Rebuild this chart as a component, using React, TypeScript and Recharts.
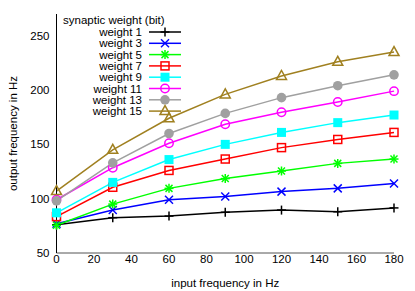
import React from 'react';
import { LineChart, Line, XAxis, YAxis, Customized } from 'recharts';

const inputFreq = [0, 30, 60, 90, 120, 150, 180];
const weight1 = [76, 82.5, 84, 87.5, 89.5, 88, 91.5];
const weight3 = [77, 89.5, 99, 102, 106.5, 109.5, 114];
const weight5 = [75.5, 95, 109.5, 118.5, 125.5, 132.5, 136.5];
const weight7 = [83.5, 110.5, 126, 136.5, 147, 154.5, 161];
const weight9 = [87, 115, 136, 150, 161, 170, 177];
const weight11 = [99, 128.5, 151, 168.5, 179.5, 189, 199];
const weight13 = [98, 133, 160, 178.5, 193, 204, 214];
const weight15 = [107, 145, 174, 196, 213, 226, 235];

const xTicks = [0, 20, 40, 60, 80, 100, 120, 140, 160, 180];
const yTicks = [50, 100, 150, 200, 250];
const legendTitle = 'synaptic weight (bit)';
const xLabel = 'input frequency in Hz';
const yLabel = 'output frequency in Hz';

type Shape = 'plus' | 'cross' | 'star' | 'square' | 'fsquare' | 'circle' | 'fcircle' | 'triangle';

const seriesDefs: { key: string; name: string; values: number[]; color: string; shape: Shape }[] = [
  { key: 'w1', name: 'weight 1', values: weight1, color: '#000000', shape: 'plus' },
  { key: 'w3', name: 'weight 3', values: weight3, color: '#0000ff', shape: 'cross' },
  { key: 'w5', name: 'weight 5', values: weight5, color: '#00ff00', shape: 'star' },
  { key: 'w7', name: 'weight 7', values: weight7, color: '#ff0000', shape: 'square' },
  { key: 'w9', name: 'weight 9', values: weight9, color: '#00ffff', shape: 'fsquare' },
  { key: 'w11', name: 'weight 11', values: weight11, color: '#ff00ff', shape: 'circle' },
  { key: 'w13', name: 'weight 13', values: weight13, color: '#a0a0a0', shape: 'fcircle' },
  { key: 'w15', name: 'weight 15', values: weight15, color: '#a08020', shape: 'triangle' },
];

const data = inputFreq.map((f, i) => {
  const row: Record<string, number> = { f };
  seriesDefs.forEach((s) => {
    row[s.key] = s.values[i];
  });
  return row;
});

const FONT = '"Liberation Sans", Arial, Helvetica, sans-serif';
const FS = 11.5;

function Marker({ cx, cy, shape, color }: { cx: number; cy: number; shape: Shape; color: string }) {
  const r = 4.5;
  const sw = 1.5;
  switch (shape) {
    case 'plus':
      return (
        <g stroke={color} strokeWidth={sw}>
          <line x1={cx - r} y1={cy} x2={cx + r} y2={cy} />
          <line x1={cx} y1={cy - r} x2={cx} y2={cy + r} />
        </g>
      );
    case 'cross':
      return (
        <g stroke={color} strokeWidth={sw}>
          <line x1={cx - 4} y1={cy - 4} x2={cx + 4} y2={cy + 4} />
          <line x1={cx - 4} y1={cy + 4} x2={cx + 4} y2={cy - 4} />
        </g>
      );
    case 'star':
      return (
        <g stroke={color} strokeWidth={sw}>
          <line x1={cx - r} y1={cy} x2={cx + r} y2={cy} />
          <line x1={cx} y1={cy - r} x2={cx} y2={cy + r} />
          <line x1={cx - 3.5} y1={cy - 3.5} x2={cx + 3.5} y2={cy + 3.5} />
          <line x1={cx - 3.5} y1={cy + 3.5} x2={cx + 3.5} y2={cy - 3.5} />
        </g>
      );
    case 'square':
      return <rect x={cx - 4} y={cy - 4} width={8} height={8} fill="none" stroke={color} strokeWidth={sw} />;
    case 'fsquare':
      return <rect x={cx - 4.5} y={cy - 4.5} width={9} height={9} fill={color} stroke="none" />;
    case 'circle':
      return <circle cx={cx} cy={cy} r={4.2} fill="none" stroke={color} strokeWidth={sw} />;
    case 'fcircle':
      return <circle cx={cx} cy={cy} r={4.8} fill={color} stroke="none" />;
    case 'triangle':
      return (
        <polygon
          points={`${cx},${cy - 5.5} ${cx - 5},${cy + 3.5} ${cx + 5},${cy + 3.5}`}
          fill="none"
          stroke={color}
          strokeWidth={sw}
        />
      );
    default:
      return null;
  }
}

function LegendBox() {
  const textRight = 142;
  const lineX1 = 149;
  const lineX2 = 181;
  const startY = 32;
  const step = 11.3;
  return (
    <g fontFamily={FONT} fontSize={FS}>
      <text x={63} y={24} fill="#000">{legendTitle}</text>
      {seriesDefs.map((s, i) => {
        const cy = startY + i * step;
        return (
          <g key={s.key}>
            <text x={textRight} y={cy + 4} textAnchor="end" fill="#000">{s.name}</text>
            <line x1={lineX1} y1={cy} x2={lineX2} y2={cy} stroke={s.color} strokeWidth={1.5} />
            <Marker cx={(lineX1 + lineX2) / 2} cy={cy} shape={s.shape} color={s.color} />
          </g>
        );
      })}
    </g>
  );
}

const YLabel = (props: any) => {
  const vb = props.viewBox || {};
  return (
    <text
      x={vb.x + 17}
      y={vb.y + vb.height / 2}
      transform={`rotate(-90, ${vb.x + 17}, ${vb.y + vb.height / 2})`}
      textAnchor="middle"
      fontFamily={FONT}
      fontSize={FS}
      fill="#000"
    >
      {yLabel}
    </text>
  );
};

const XLabel = (props: any) => {
  const vb = props.viewBox || {};
  return (
    <text
      x={vb.x + vb.width / 2}
      y={vb.y + 34}
      textAnchor="middle"
      fontFamily={FONT}
      fontSize={FS}
      fill="#000"
    >
      {xLabel}
    </text>
  );
};

const XTick = (props: any) => (
  <text x={props.x} y={props.y + 9} textAnchor="middle" fontFamily={FONT} fontSize={FS} fill="#000">
    {props.payload.value}
  </text>
);

const YTick = (props: any) => (
  <text x={props.x} y={props.y + 4} textAnchor="end" fontFamily={FONT} fontSize={FS} fill="#000">
    {props.payload.value}
  </text>
);

export default function App() {
  return (
    <div style={{ margin: '-8px 0 0 -8px', width: 415, height: 291, background: '#fff' }}>
      <LineChart width={415} height={291} data={data} margin={{ top: 14, right: 21, left: 0, bottom: 0 }}>
        {/* inward tick marks / frame */}
        <XAxis xAxisId="bt" dataKey="f" type="number" domain={[0, 180]} ticks={xTicks} orientation="bottom" mirror height={0}
          tick={false} tickSize={4} axisLine={false} tickLine={{ stroke: '#000' }} />
        <XAxis xAxisId="tp" dataKey="f" type="number" domain={[0, 180]} ticks={xTicks} orientation="top" mirror height={0}
          tick={false} tickSize={4} axisLine={{ stroke: '#555', strokeWidth: 1 }} tickLine={{ stroke: '#000' }} />
        <YAxis yAxisId="lt" type="number" domain={[50, 270]} ticks={yTicks} orientation="left" mirror width={0}
          tick={false} tickSize={4} axisLine={false} tickLine={{ stroke: '#000' }} />
        <YAxis yAxisId="rt" type="number" domain={[50, 270]} ticks={yTicks} orientation="right" mirror width={0}
          tick={false} tickSize={4} axisLine={{ stroke: '#000', strokeWidth: 1 }} tickLine={{ stroke: '#000' }} />
        {/* labelled axes */}
        <XAxis xAxisId="x" dataKey="f" type="number" domain={[0, 180]} ticks={xTicks} height={38}
          tickSize={0} tickMargin={1} tickLine={false} axisLine={{ stroke: '#555', strokeWidth: 1 }}
          tick={<XTick />} label={<XLabel />} />
        <YAxis yAxisId="y" type="number" domain={[50, 270]} ticks={yTicks} width={56.5}
          tickSize={0} tickMargin={7} tickLine={false} axisLine={{ stroke: '#000', strokeWidth: 1 }}
          tick={<YTick />} label={<YLabel />} />
        {seriesDefs.map((s) => (
          <Line
            key={s.key}
            xAxisId="x"
            yAxisId="y"
            dataKey={s.key}
            name={s.name}
            stroke={s.color}
            strokeWidth={1.5}
            isAnimationActive={false}
            dot={(p: any) => <Marker key={`${s.key}-${p.index}`} cx={p.cx} cy={p.cy} shape={s.shape} color={s.color} />}
            activeDot={false}
          />
        ))}
        <Customized component={LegendBox} />
      </LineChart>
    </div>
  );
}
